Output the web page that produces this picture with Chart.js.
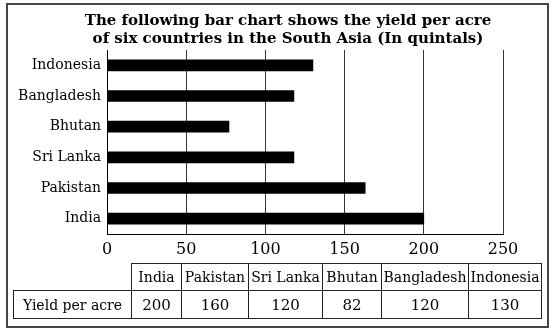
<!DOCTYPE html>
<html><head><meta charset="utf-8">
<script src="https://cdn.jsdelivr.net/npm/chart.js@4"></script>
<style>
html,body{margin:0;padding:0;background:#fff;}
#wrap{position:relative;width:553px;height:333px;overflow:hidden;background:#fff;}
#frame{position:absolute;left:6px;top:3px;width:539px;height:321px;border:2px solid #444;}
#c{position:absolute;left:0;top:0;}
.cell{position:absolute;box-sizing:border-box;border:1px solid #222;font-family:'DejaVu Serif',serif;font-size:14px;color:#000;display:flex;align-items:center;justify-content:center;white-space:nowrap;}
.num{font-size:15px;}
</style></head>
<body><div id="wrap"><div id="frame"></div><canvas id="c" width="553" height="333"></canvas><div id="tbl"></div></div>
<script>
// ---- data ----
const categories = ['India', 'Pakistan', 'Sri Lanka', 'Bhutan', 'Bangladesh', 'Indonesia'];
const barValues = [200, 163, 118, 77, 118, 130];
const tableValues = ['200', '160', '120', '82', '120', '130'];
const xTicks = [0, 50, 100, 150, 200, 250];
const rowLabel = 'Yield per acre';
const titleLines = ['The following bar chart shows the yield per acre', 'of six countries in the South Asia (In quintals)'];

// ---- table layout ----
const colEdges = [13, 131, 181, 248, 322, 381, 468, 541];
const rowEdges = [263, 290, 318];
const tbl = document.getElementById('tbl');
function cell(text, c, r, cls) {
  const d = document.createElement('div');
  d.className = 'cell' + (cls ? ' ' + cls : '');
  d.style.left = colEdges[c] + 'px';
  d.style.top = rowEdges[r] + 'px';
  d.style.width = (colEdges[c + 1] - colEdges[c] + 1) + 'px';
  d.style.height = (rowEdges[r + 1] - rowEdges[r] + 1) + 'px';
  d.textContent = text;
  tbl.appendChild(d);
}
categories.forEach((c, i) => cell(c, i + 1, 0));
cell(rowLabel, 0, 1);
tableValues.forEach((v, i) => cell(v, i + 1, 1, 'num'));

// shift the title block so it is centred like the reference
const titleShift = {
  id: 'titleShift',
  afterLayout(chart) {
    if (chart.titleBlock) { chart.titleBlock.left = 23; chart.titleBlock.right = 553; }
  }
};

// ---- chart ----
Chart.defaults.color = '#000';
new Chart(document.getElementById('c'), {
  type: 'bar',
  data: {
    labels: categories,
    datasets: [{ data: barValues, backgroundColor: '#000', borderWidth: 0, barThickness: 11 }]
  },
  plugins: [titleShift],
  options: {
    indexAxis: 'y',
    responsive: false,
    animation: false,
    layout: { padding: { left: 0, right: 50, top: 0, bottom: 69 } },
    plugins: {
      legend: { display: false },
      tooltip: { enabled: false },
      title: {
        display: true,
        text: titleLines,
        color: '#000',
        font: { family: "'DejaVu Serif', serif", size: 15, weight: 'bold', lineHeight: 1.2 },
        padding: { top: 12, bottom: 2 }
      }
    },
    scales: {
      x: {
        min: xTicks[0], max: xTicks[xTicks.length - 1],
        afterBuildTicks: s => { s.ticks = xTicks.map(v => ({ value: v })); },
        afterFit: s => { s.height = 30; },
        grid: { color: '#333', lineWidth: 1, drawTicks: false },
        border: { display: true, color: '#000', width: 1 },
        ticks: { padding: 6, color: '#000', font: { family: "'DejaVu Serif', serif", size: 16 } }
      },
      y: {
        reverse: true,
        afterFit: s => { s.width = 107; },
        grid: { display: false, drawTicks: false },
        border: { display: true, color: '#000', width: 1 },
        ticks: { padding: 6, color: '#000', font: { family: "'DejaVu Serif', serif", size: 14 } }
      }
    }
  }
});
</script>
</body></html>
